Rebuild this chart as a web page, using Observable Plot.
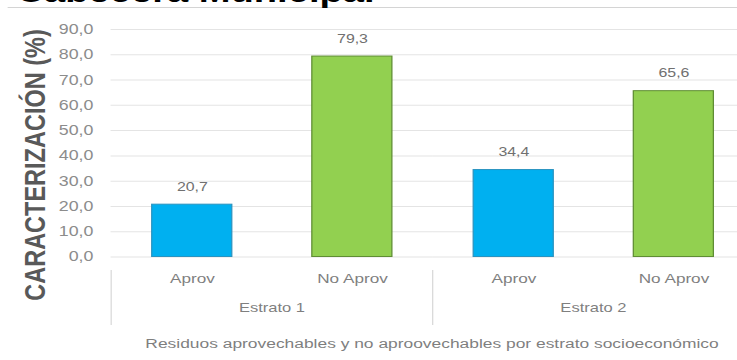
<!DOCTYPE html>
<html>
<head>
<meta charset="utf-8">
<script src="https://cdn.jsdelivr.net/npm/d3@7"></script>
<script src="https://cdn.jsdelivr.net/npm/@observablehq/plot@0.6"></script>
<style>
  html, body { margin: 0; padding: 0; background: #ffffff; }
  #outer { position: relative; width: 737px; height: 360px; overflow: hidden; background: #fff; }
  #wrap { position: absolute; left: 0; top: 0; width: 580px; height: 360px;
          transform: scaleX(1.2707); transform-origin: 0 0;
          font-family: "Liberation Sans", Arial, sans-serif; }
  #title { position: absolute; left: 13px; top: -23px; font-size: 30px; line-height: 30px;
           font-weight: bold; color: #000; white-space: nowrap; }
  #topline { position: absolute; left: 5.5px; top: 7px; width: 580px; height: 1px; background: #d4d4d4; }
  #chart { position: absolute; left: 0; top: 0; }
  #ytitle { position: absolute; left: 27.5px; top: 165px; transform: translate(-50%, -50%) rotate(-90deg);
            font-size: 23.5px; font-weight: bold; color: #595959; white-space: nowrap; line-height: 1; }
  #caption { position: absolute; left: 340px; top: 344px; transform: translate(-50%, -50%);
             font-size: 13.7px; color: #7f7f7f; white-space: nowrap; line-height: 1; }
</style>
</head>
<body>
<div id="outer">
  <div id="wrap">
    <div id="chart"></div>
    <div id="topline"></div>
    <div id="title">Cabecera Municipal</div>
    <div id="ytitle">CARACTERIZACIÓN (%)</div>
    <div id="caption">Residuos aprovechables y no aproovechables por estrato socioeconómico</div>
  </div>
</div>
<script>
// ---- data ----
const estratos = ["Estrato 1", "Estrato 2"];
const tipos = ["Aprov", "No Aprov"];
const valores = [20.7, 79.3, 34.4, 65.6];          // Estrato 1: Aprov, No Aprov; Estrato 2: Aprov, No Aprov
const yTicks = [0, 10, 20, 30, 40, 50, 60, 70, 80, 90];
const titulo = "Cabecera Municipal";
const ejeY = "CARACTERIZACIÓN (%)";
const pie = "Residuos aprovechables y no aproovechables por estrato socioeconómico";

// ---- styles ----
const colores = ["#00b0f0", "#92d050"];
const bordes = ["#2a93c0", "#5f8d34"];

const data = valores.map((v, i) => ({
  estrato: estratos[Math.floor(i / 2)],
  tipo: tipos[i % 2],
  valor: v
}));
const fmt = v => v.toFixed(1).replace(".", ",");

const Y0 = 256.5, Y90 = 29, FRAME_TOP = 20, SEP_TOP = 270;

const chart = Plot.plot({
  width: 580,
  height: 360,
  marginLeft: 86.6,
  marginRight: -13.7,
  marginTop: FRAME_TOP,
  marginBottom: 36,
  style: { fontFamily: "Liberation Sans, Arial, sans-serif", background: "transparent", overflow: "visible" },
  fx: { domain: estratos, padding: 0, axis: null },
  x: { domain: tipos, paddingInner: 0.5, paddingOuter: 0.25, axis: null },
  y: { domain: [0, 90], range: [Y0, Y90], axis: null },
  marks: [
    Plot.ruleY(yTicks, { stroke: "#e4e4e4", strokeWidth: 1 }),
    Plot.frame({ anchor: "left", stroke: "#d9d9d9", insetTop: SEP_TOP - FRAME_TOP }),
    Plot.axisY({ ticks: yTicks, tickSize: 0, tickPadding: 14, tickFormat: fmt,
                 fill: "#8c8c8c", fontSize: 14, label: null }),
    Plot.barY(data, {
      fx: "estrato", x: "tipo", y: "valor",
      fill: d => colores[tipos.indexOf(d.tipo)],
      stroke: d => bordes[tipos.indexOf(d.tipo)],
      strokeWidth: 1
    }),
    Plot.text(data, {
      fx: "estrato", x: "tipo", y: "valor", text: d => fmt(d.valor),
      dy: -18, fill: "#707070", fontSize: 12.5
    }),
    Plot.text(data, {
      fx: "estrato", x: "tipo", text: "tipo",
      frameAnchor: "bottom", dy: -42, fill: "#7f7f7f", fontSize: 13.5
    }),
    Plot.text(estratos, {
      fx: d => d, text: d => d,
      frameAnchor: "bottom", dy: -13, fill: "#7f7f7f", fontSize: 13
    })
  ]
});
document.getElementById("chart").appendChild(chart);
document.getElementById("title").textContent = titulo;
document.getElementById("ytitle").textContent = ejeY;
document.getElementById("caption").textContent = pie;
</script>
</body>
</html>
